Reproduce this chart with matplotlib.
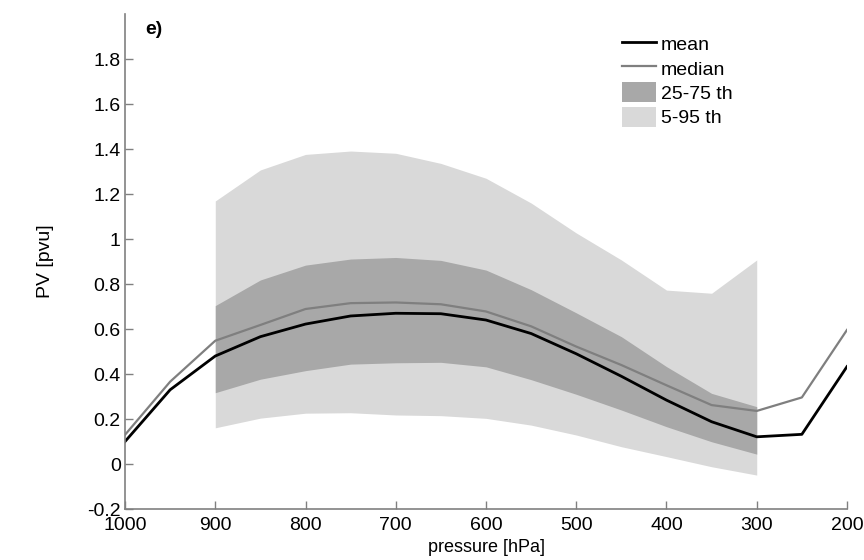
import numpy as np
import matplotlib
matplotlib.use("Agg")
import matplotlib.pyplot as plt
from matplotlib.patches import Patch
from matplotlib.lines import Line2D
from matplotlib.ticker import FormatStrFormatter

# pressure levels [hPa]
pressure = [1000, 950, 900, 850, 800, 750, 700, 650, 600, 550, 500, 450, 400, 350, 300, 250, 200]
pv_mean = [0.10, 0.33, 0.48, 0.566, 0.622, 0.658, 0.67, 0.668, 0.64, 0.58, 0.49, 0.39, 0.284, 0.188, 0.121, 0.132, 0.433]
pv_median = [0.13, 0.366, 0.548, 0.618, 0.689, 0.715, 0.718, 0.71, 0.678, 0.612, 0.522, 0.44, 0.35, 0.262, 0.236, 0.296, 0.596]

# percentile bands only between 900 and 300 hPa
band_p = [900, 850, 800, 750, 700, 650, 600, 550, 500, 450, 400, 350, 300]
p05 = [0.161, 0.204, 0.226, 0.228, 0.218, 0.215, 0.203, 0.173, 0.129, 0.077, 0.033, -0.012, -0.049]
p25 = [0.317, 0.377, 0.415, 0.444, 0.45, 0.452, 0.432, 0.375, 0.31, 0.24, 0.166, 0.099, 0.044]
p75 = [0.704, 0.818, 0.884, 0.911, 0.918, 0.905, 0.862, 0.775, 0.672, 0.566, 0.433, 0.314, 0.255]
p95 = [1.169, 1.307, 1.376, 1.391, 1.381, 1.336, 1.27, 1.16, 1.027, 0.907, 0.773, 0.759, 0.907]

yticks = [-0.2, 0, 0.2, 0.4, 0.6, 0.8, 1, 1.2, 1.4, 1.6, 1.8]

plt.rcParams['font.family'] = ['Liberation Sans', 'DejaVu Sans']
plt.rcParams['font.size'] = 14

light = '#d9d9d9'
dark = '#a8a8a8'
spine_col = '#808080'

fig = plt.figure(figsize=(8.64, 5.6), dpi=100)
ax = fig.add_axes([0.1447, 0.091, 0.8356, 0.884])

ax.fill_between(band_p, p05, p95, color=light, lw=0)
ax.fill_between(band_p, p25, p75, color=dark, lw=0)
ax.plot(pressure, pv_median, color='#7f7f7f', lw=1.6)
ax.plot(pressure, pv_mean, color='black', lw=2)

ax.set_xlim(1000, 200)
ax.set_ylim(-0.2, 2.0)
ax.set_xticks(range(1000, 199, -100))
ax.set_yticks(yticks)
ax.yaxis.set_major_formatter(FormatStrFormatter('%g'))

for s in ['top', 'right']:
    ax.spines[s].set_visible(False)
for s in ['left', 'bottom']:
    ax.spines[s].set_color(spine_col)
    ax.spines[s].set_linewidth(1.2)
ax.tick_params(direction='in', length=6, color=spine_col, width=1, labelsize=14)
ax.tick_params(axis='x', pad=6)
ax.tick_params(axis='y', pad=3)

ax.set_xlabel('pressure [hPa]', fontsize=13, labelpad=3)
ax.set_ylabel('PV [pvu]', fontsize=14, labelpad=24)

ax.text(0.028, 0.968, 'e)', transform=ax.transAxes, fontsize=14, fontweight='bold', va='center')

handles = [Line2D([], [], color='black', lw=2),
           Line2D([], [], color='#7f7f7f', lw=1.6),
           Patch(facecolor=dark, edgecolor='none'),
           Patch(facecolor=light, edgecolor='none')]
labels = ['mean', 'median', '25-75 th', '5-95 th']
ax.legend(handles, labels, loc='upper left', bbox_to_anchor=(0.675, 0.98), frameon=False,
          fontsize=14, handlelength=1.75, handleheight=1.2, handletextpad=0.25, labelspacing=0.2,
          borderpad=0)

fig.savefig('out.png', dpi=100)
